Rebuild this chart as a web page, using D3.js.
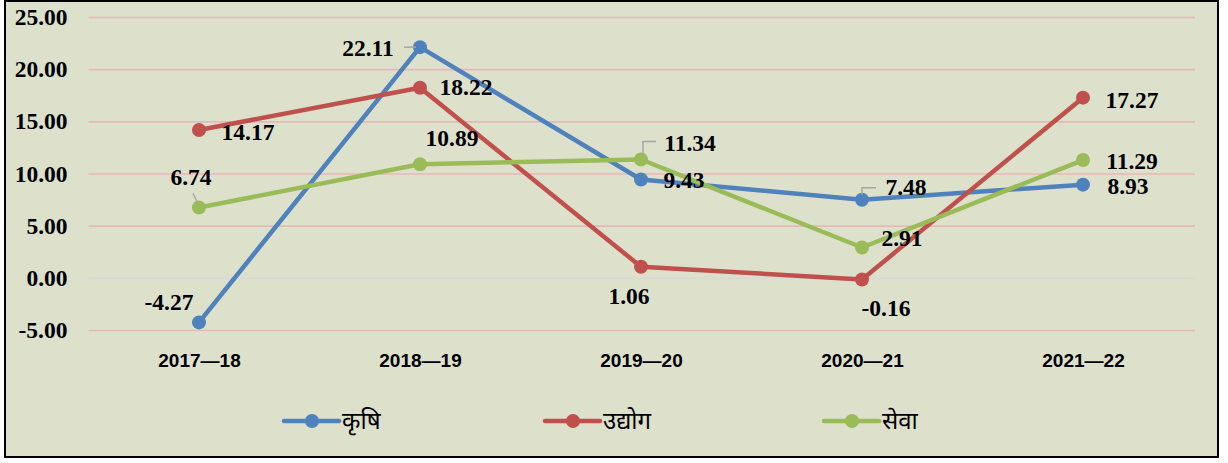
<!DOCTYPE html>
<html>
<head>
<meta charset="utf-8">
<script src="https://cdn.jsdelivr.net/npm/d3@7"></script>
<style>
  html, body { margin: 0; padding: 0; background: #ffffff; }
  svg { display: block; }
  .val { font-family: "Liberation Serif", "Times New Roman", serif; font-weight: bold; font-size: 23.5px; fill: #000; }
  .yax text { font-family: "Liberation Serif", "Times New Roman", serif; font-weight: bold; font-size: 23.5px; fill: #000; }
  .xax text { font-family: "Liberation Sans", Arial, sans-serif; font-weight: bold; font-size: 19px; fill: #000; }
  .leg { font-family: "Noto Sans Devanagari", "Lohit Devanagari", "Noto Sans", sans-serif; font-size: 24px; fill: #000; }
</style>
</head>
<body>
<div id="graph"></div>
<script>
// years
var years = ["2017—18", "2018—19", "2019—20", "2020—21", "2021—22"];

// growth rates (%)
var krishi = [-4.27, 22.11, 9.43, 7.48, 8.93];
var udyog = [14.17, 18.22, 1.06, -0.16, 17.27];
var seva = [6.74, 10.89, 11.34, 2.91, 11.29];

var seriesNames = ["कृषि", "उद्योग", "सेवा"];
var yTicks = [-5, 0, 5, 10, 15, 20, 25];

function setup() {
  var W = 1228, H = 463;
  var colors = ["#4f81bd", "#c0504d", "#9bbb59"];
  var series = [krishi, udyog, seva];

  // label offsets from each point (centre of text), and leader lines
  var labelOff = [
    [[-30, -20], [-52, 1], [43, 1], [44, -13], [45, 1]],
    [[49, 2], [46, -1], [-12, 29], [24, 28], [49, 2]],
    [[-8, -31], [32, -26], [49, -17], [40, -9], [49, 1]]
  ];
  var leaders = [
    [null, "M-16,0 L-4,0", null, "M0,-5 V-12 H14", null],
    [null, null, null, null, null],
    ["M-6,-14 L-2,-6", null, "M2,-4 V-18 H15", null, null]
  ];

  var svg = d3.select("#graph").append("svg")
    .attr("width", W).attr("height", H);

  svg.append("rect")
    .attr("x", 5).attr("y", 1)
    .attr("width", 1213).attr("height", 456)
    .attr("fill", "#dde1cc")
    .attr("stroke", "#000").attr("stroke-width", 2);

  var x = d3.scalePoint().domain(years).range([199, 1083]);
  var y = d3.scaleLinear().domain([-5, 25]).range([330, 17]);
  var left = 88.5, right = 1195;

  // y axis + gridlines
  var yAx = svg.append("g")
    .attr("class", "yax")
    .attr("transform", "translate(" + left + ",0)")
    .call(d3.axisLeft(y).tickValues(yTicks)
      .tickSize(-(right - left)).tickPadding(21)
      .tickFormat(function(d) { return d.toFixed(2); }));
  yAx.select(".domain").remove();
  yAx.selectAll(".tick line")
    .attr("stroke", function(d) { return d === 0 ? "#d9d9d9" : "#e6b8b7"; })
    .attr("stroke-width", 1.6);

  // x axis labels
  var xAx = svg.append("g")
    .attr("class", "xax")
    .attr("transform", "translate(0," + y(-5) + ")")
    .call(d3.axisBottom(x).tickSize(0).tickPadding(24));
  xAx.select(".domain").remove();

  var line = d3.line()
    .x(function(d, i) { return x(years[i]); })
    .y(function(d) { return y(d); });

  series.forEach(function(s, k) {
    var g = svg.append("g");
    g.append("path")
      .datum(s)
      .attr("d", line)
      .attr("fill", "none")
      .attr("stroke", colors[k])
      .attr("stroke-width", 4.5)
      .attr("stroke-linejoin", "round");
    g.selectAll("circle")
      .data(s)
      .enter()
      .append("circle")
      .attr("cx", function(d, i) { return x(years[i]); })
      .attr("cy", function(d) { return y(d); })
      .attr("r", 7)
      .attr("fill", colors[k]);
  });

  // labels on top
  series.forEach(function(s, k) {
    s.forEach(function(v, i) {
      var px = x(years[i]), py = y(v);
      if (leaders[k][i]) {
        svg.append("path")
          .attr("transform", "translate(" + px + "," + py + ")")
          .attr("d", leaders[k][i])
          .attr("fill", "none")
          .attr("stroke", "#a6a6a6")
          .attr("stroke-width", 1.5);
      }
      svg.append("text")
        .attr("class", "val")
        .attr("x", px + labelOff[k][i][0])
        .attr("y", py + labelOff[k][i][1])
        .attr("text-anchor", "middle")
        .attr("dominant-baseline", "central")
        .text(v.toFixed(2));
    });
  });

  // legend
  var legX = [312, 573, 852], legY = 421;
  seriesNames.forEach(function(n, k) {
    var g = svg.append("g").attr("transform", "translate(" + legX[k] + "," + legY + ")");
    g.append("line")
      .attr("x1", -28).attr("x2", 27)
      .attr("stroke", colors[k]).attr("stroke-width", 4.5)
      .attr("stroke-linecap", "round");
    g.append("circle").attr("r", 7).attr("fill", colors[k]);
    g.append("text")
      .attr("class", "leg")
      .attr("x", 30)
      .attr("dy", "0.35em")
      .text(n);
  });
}

window.addEventListener('load', setup);
</script>
</body>
</html>
